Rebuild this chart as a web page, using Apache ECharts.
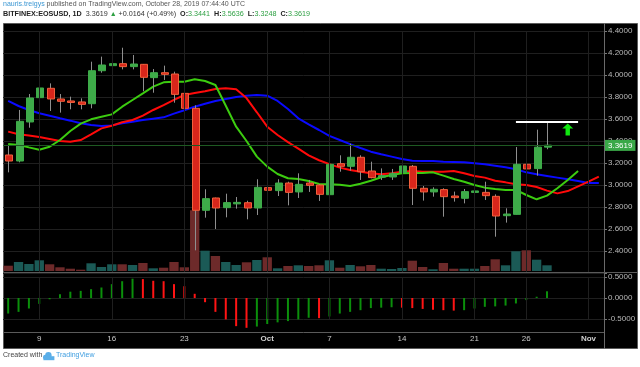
<!DOCTYPE html>
<html><head><meta charset="utf-8">
<script src="https://cdn.jsdelivr.net/npm/echarts@6/dist/echarts.min.js"></script>
<style>html,body{margin:0;padding:0;background:#fff}#c{width:640px;height:367px}</style>
</head><body><div id="c"></div><script>
// ---- data (BITFINEX:EOSUSD, 1D) ----
const categories = ['Sep 6','Sep 7','Sep 8','Sep 9','Sep 10','Sep 11','Sep 12','Sep 13','Sep 14','Sep 15','Sep 16','Sep 17','Sep 18','Sep 19','Sep 20','Sep 21','Sep 22','Sep 23','Sep 24','Sep 25','Sep 26','Sep 27','Sep 28','Sep 29','Sep 30',
 'Oct 1','Oct 2','Oct 3','Oct 4','Oct 5','Oct 6','Oct 7','Oct 8','Oct 9','Oct 10','Oct 11','Oct 12','Oct 13','Oct 14','Oct 15','Oct 16','Oct 17','Oct 18','Oct 19','Oct 20','Oct 21','Oct 22','Oct 23','Oct 24','Oct 25','Oct 26','Oct 27','Oct 28','Oct 29','Oct 30','Oct 31','Nov 1','Nov 2'];
const opens  = [3.273,3.218,3.573,3.794,3.879,3.782,3.764,3.755,3.739,4.039,4.085,4.103,4.076,4.097,3.976,4.021,4.009,3.833,3.697,2.770,2.882,2.794,2.838,2.839,2.791,
 2.976,2.949,3.018,2.937,3.018,3.000,2.912,3.194,3.170,3.252,3.127,3.079,3.073,3.112,3.170,2.970,2.937,2.958,2.900,2.879,2.940,2.933,2.897,2.721,2.733,3.188,3.149,3.3441];
const closes = [3.218,3.579,3.791,3.882,3.782,3.761,3.752,3.733,4.039,4.091,4.103,4.076,4.100,3.979,4.021,4.006,3.824,3.697,2.770,2.876,2.791,2.840,2.842,2.791,2.979,
 2.952,3.018,2.933,3.006,2.997,2.915,3.188,3.170,3.252,3.121,3.067,3.085,3.106,3.173,2.970,2.937,2.961,2.894,2.885,2.940,2.946,2.903,2.718,2.736,3.188,3.146,3.3441,3.3619];
const lows   = [3.115,3.206,3.521,3.627,3.673,3.658,3.688,3.688,3.697,4.021,3.961,4.051,4.051,3.852,3.839,3.955,3.748,3.667,2.406,2.703,2.600,2.706,2.785,2.688,2.727,
 2.873,2.900,2.815,2.882,2.937,2.855,2.912,3.121,3.130,3.046,3.061,3.046,3.046,3.109,2.818,2.858,2.894,2.712,2.849,2.833,2.885,2.864,2.530,2.658,2.733,3.000,3.085,3.3248];
const highs  = [3.358,3.682,3.827,3.970,3.924,3.827,3.803,3.788,4.121,4.167,4.164,4.248,4.182,4.100,4.054,4.085,4.030,3.879,3.724,2.961,2.885,2.921,2.891,2.857,3.052,
 3.130,3.052,3.030,3.106,3.046,3.009,3.273,3.270,3.376,3.270,3.212,3.151,3.146,3.212,3.182,2.991,2.979,2.970,2.940,2.964,2.976,3.030,2.915,2.788,3.345,3.576,3.503,3.5636];
const volumes = [5.3,9,7,10.7,6.7,3.7,2.3,1.3,7.7,4,6.7,6.7,6,8,2.7,3.3,9,3.7,60.7,20.3,15,9,6,8.7,11,
 13.7,2.7,5,5.7,5,5.7,10.7,3.3,6,4.7,6,2.3,2,3,10.3,4,1.7,8,2.3,2.3,2.3,5,11.7,5.7,19.7,20.7,11.3,5.7];
// Alligator lines (shifted forward)
const jaw = [3.764,3.718,3.682,3.652,3.630,3.606,3.585,3.561,3.545,3.536,3.542,3.562,3.576,3.591,3.603,3.615,3.649,3.679,3.712,3.739,3.764,3.782,3.800,3.812,3.818,
 3.812,3.764,3.691,3.606,3.552,3.500,3.446,3.409,3.372,3.336,3.303,3.279,3.258,3.237,3.221,3.218,3.218,3.212,3.209,3.206,3.197,3.188,3.176,3.161,3.143,3.115,3.097,3.082,3.067,3.052,3.036,3.018,3.018];
const teeth = [3.485,3.461,3.449,3.436,3.418,3.400,3.394,3.409,3.461,3.515,3.539,3.570,3.591,3.630,3.682,3.727,3.773,3.818,3.836,3.852,3.873,3.879,3.870,3.790,3.661,
 3.530,3.455,3.390,3.330,3.270,3.225,3.190,3.158,3.136,3.121,3.106,3.097,3.106,3.121,3.127,3.121,3.121,3.121,3.127,3.106,3.082,3.067,3.039,3.024,3.006,3.000,2.982,2.949,2.924,2.945,2.988,3.030,3.076];
const lips = [3.373,3.364,3.342,3.321,3.348,3.409,3.491,3.558,3.597,3.621,3.642,3.712,3.773,3.833,3.894,3.933,3.939,3.939,3.961,3.945,3.909,3.720,3.530,3.400,3.258,
 3.167,3.100,3.061,3.055,3.036,3.009,3.006,3.003,2.991,3.012,3.039,3.070,3.091,3.106,3.109,3.109,3.115,3.085,3.055,3.030,3.000,2.976,2.964,2.955,2.955,2.909,2.870,2.903,2.970,3.045,3.127,null,null];
const oscillator = [-0.37,-0.33,-0.25,-0.14,-0.03,0.09,0.15,0.17,0.21,0.25,0.33,0.40,0.46,0.45,0.41,0.40,0.33,0.28,0.10,-0.10,-0.33,-0.51,-0.67,-0.71,-0.68,
 -0.62,-0.58,-0.55,-0.51,-0.47,-0.48,-0.44,-0.37,-0.33,-0.29,-0.24,-0.23,-0.22,-0.23,-0.24,-0.26,-0.28,-0.29,-0.30,-0.29,-0.25,-0.21,-0.20,-0.18,-0.13,-0.05,0.03,0.16];
const tickDates  = ['Sep 9','Sep 16','Sep 23','Oct 1','Oct 7','Oct 14','Oct 21','Oct 26','Nov 1'];
const tickLabels = ['9','16','23','Oct','7','14','21','26','Nov'];
const lastPrice = 3.3619;
const resistance = {from: 'Oct 25', to: 'Oct 31', price: 3.576};
const arrowAt = {date: 'Oct 30', price: 3.505};

// ---- chart ----
const FONT = '"Liberation Sans", Arial, sans-serif';
const G = '#3eab49', R = '#d8261b', RB = '#f2603c';
const candleData = opens.map((o, i) => [i, o, closes[i], lows[i], highs[i]]);
const volData = volumes.map((v, i) => ({value: v, itemStyle: {color: closes[i] >= opens[i] ? '#1b5a56' : '#6d2a2a'}}));
const oscData = oscillator.map((v, i) => ({value: v, itemStyle: {color: (i === 0 || v >= oscillator[i - 1]) ? '#0b8f0b' : '#ff1414'}}));
const pad = arr => arr.concat(new Array(categories.length - arr.length).fill(null));

const chart = echarts.init(document.getElementById('c'), null, {renderer: 'canvas'});
const gridX = {left: 3, right: 36};
const xBase = {type: 'category', data: categories, boundaryGap: true};
const vLines = tickDates.map(d => ({xAxis: d}));
const vLineStyle = {silent: true, symbol: 'none', label: {show: false}, lineStyle: {color: '#1f1f1f', width: 1, type: 'solid'}, animation: false};

chart.setOption({
  animation: false,
  backgroundColor: '#ffffff',
  textStyle: {fontFamily: FONT},
  grid: [
    Object.assign({top: 31, height: 242}, gridX),
    Object.assign({top: 201, height: 70}, gridX),
    Object.assign({top: 277, height: 42}, gridX)
  ],
  xAxis: [
    Object.assign({gridIndex: 0, show: false}, xBase),
    Object.assign({gridIndex: 1, show: false}, xBase),
    Object.assign({gridIndex: 2, axisLine: {show: false}, axisTick: {show: false}, splitLine: {show: false},
      axisLabel: {
        margin: 16, fontSize: 8, color: '#c8c8c8', fontFamily: FONT,
        interval: (idx, val) => tickDates.indexOf(val) >= 0,
        formatter: val => { const k = tickDates.indexOf(val); if (k < 0) return ''; const t = tickLabels[k]; return isNaN(+t) ? '{m|' + t + '}' : t; },
        rich: {m: {fontWeight: 'bold', fontSize: 8, color: '#d0d0d0'}}
      }}, xBase)
  ],
  yAxis: [
    {gridIndex: 0, position: 'right', min: 2.2, max: 4.4, interval: 0.2,
     axisLine: {show: false}, axisTick: {show: true, length: 3, lineStyle: {color: '#777'}},
     splitLine: {lineStyle: {color: '#1f1f1f'}},
     axisLabel: {margin: 4, fontSize: 8, color: '#b8b8b8', fontFamily: FONT,
       formatter: v => (Math.abs(v - 2.2) < 1e-6 ? '' : v.toFixed(4))}},
    {gridIndex: 1, min: 0, max: 70, show: false},
    {gridIndex: 2, position: 'right', min: -0.5, max: 0.5, interval: 0.5,
     axisLine: {show: false}, axisTick: {show: true, length: 3, lineStyle: {color: '#777'}},
     splitLine: {lineStyle: {color: '#1f1f1f'}},
     axisLabel: {margin: 4, fontSize: 8, color: '#b8b8b8', fontFamily: FONT, formatter: v => v.toFixed(4)}}
  ],
  series: [
    {type: 'line', xAxisIndex: 0, yAxisIndex: 0, data: categories.map(() => null), z: 1, silent: true,
     markLine: Object.assign({data: vLines}, vLineStyle)},
    {type: 'line', xAxisIndex: 2, yAxisIndex: 2, data: categories.map(() => null), z: 1, silent: true,
     markLine: Object.assign({data: vLines}, vLineStyle)},
    {type: 'bar', xAxisIndex: 1, yAxisIndex: 1, data: volData, barWidth: '90%', z: 1, silent: true},
    {type: 'line', xAxisIndex: 0, yAxisIndex: 0, data: pad(jaw), showSymbol: false, symbol: 'none', z: 3,
     lineStyle: {color: '#0a0aff', width: 2}},
    {type: 'line', xAxisIndex: 0, yAxisIndex: 0, data: pad(teeth), showSymbol: false, symbol: 'none', z: 3,
     lineStyle: {color: '#ff0a0a', width: 2}},
    {type: 'line', xAxisIndex: 0, yAxisIndex: 0, data: pad(lips), showSymbol: false, symbol: 'none', z: 3,
     lineStyle: {color: '#3ccc10', width: 2}},
    {type: 'custom', xAxisIndex: 0, yAxisIndex: 0, data: candleData, z: 4,
     encode: {x: 0, y: [1, 2, 3, 4]},
     renderItem: (params, api) => {
       const i = api.value(0), o = api.value(1), c = api.value(2), l = api.value(3), h = api.value(4);
       const pO = api.coord([i, o]), pC = api.coord([i, c]), pL = api.coord([i, l]), pH = api.coord([i, h]);
       const bw = Math.round(api.size([1, 0])[0] * 0.66);
       const cx = Math.round(pO[0]);
       const up = c >= o;
       const top = Math.min(pO[1], pC[1]);
       const bh = Math.max(Math.abs(pO[1] - pC[1]), 1.5);
       return {type: 'group', children: [
         {type: 'line', shape: {x1: cx + 0.5, y1: pH[1], x2: cx + 0.5, y2: pL[1]}, style: {stroke: '#8f8f8f', lineWidth: 1}},
         {type: 'rect', shape: {x: cx - Math.floor(bw / 2) + 0.5, y: top, width: bw, height: bh},
          style: {fill: up ? G : R, stroke: up ? G : RB, lineWidth: 1}}
       ]};
     }},
    {type: 'line', xAxisIndex: 0, yAxisIndex: 0, data: categories.map(() => null), z: 5, silent: true,
     markLine: {silent: true, symbol: 'none', animation: false,
       data: [
         {yAxis: lastPrice, lineStyle: {color: '#1e5a22', width: 1, type: 'solid'},
          label: {show: true, position: 'end', distance: 1, formatter: lastPrice.toFixed(4), color: '#ffffff',
                  backgroundColor: '#3aa848', padding: [2, 3, 1, 3], fontSize: 8, fontFamily: FONT}},
         [{coord: [categories.indexOf(resistance.from), resistance.price], lineStyle: {color: '#ffffff', width: 2, type: 'solid'}, label: {show: false}},
          {coord: [categories.indexOf(resistance.to), resistance.price]}]
       ]},
     markPoint: {silent: true, animation: false,
       data: [{coord: [categories.indexOf(arrowAt.date), arrowAt.price]}],
       symbol: 'path://M5,0 L10,5 L7,5 L7,12 L3,12 L3,5 L0,5 Z', symbolSize: [11, 12],
       itemStyle: {color: '#10e810'}, label: {show: false}}},
    {type: 'bar', xAxisIndex: 2, yAxisIndex: 2, data: oscData, barWidth: 2, clip: false, z: 3, silent: true}
  ],
  graphic: [
    {type: 'rect', z: -10, silent: true, shape: {x: 3.5, y: 23.5, width: 634, height: 325}, style: {fill: '#000000', stroke: '#5a5a5a', lineWidth: 1}},
    {type: 'line', z: 10, silent: true, shape: {x1: 604.5, y1: 23, x2: 604.5, y2: 349}, style: {stroke: '#6a6a6a', lineWidth: 1}},
    {type: 'line', z: 10, silent: true, shape: {x1: 3, y1: 272.5, x2: 638, y2: 272.5}, style: {stroke: '#5a5a5a', lineWidth: 1}},
    {type: 'line', z: 10, silent: true, shape: {x1: 3, y1: 332.5, x2: 604, y2: 332.5}, style: {stroke: '#5a5a5a', lineWidth: 1}},
    {type: 'text', left: 3, top: 1, silent: true, style: {
      text: '{a|nauris.treigys}{b| published on TradingView.com, October 28, 2019 07:44:40 UTC}',
      font: '7px ' + FONT,
      rich: {a: {fill: '#3b97d3', fontSize: 7, fontFamily: FONT}, b: {fill: '#555555', fontSize: 7, fontFamily: FONT}}}},
    {type: 'text', left: 3, top: 11, silent: true, style: {
      text: '{k|BITFINEX:EOSUSD, 1D}{n|  3.3619 }{g|▲}{n| +0.0164 (+0.49%)  }{k|O:}{v|3.3441}{k|  H:}{v|3.5636}{k|  L:}{v|3.3248}{k|  C:}{v|3.3619}',
      font: 'bold 7.2px ' + FONT,
      rich: {
        k: {fill: '#222222', fontWeight: 'bold', fontSize: 7.2, fontFamily: FONT},
        n: {fill: '#333333', fontSize: 7.2, fontFamily: FONT},
        g: {fill: '#2ea043', fontSize: 7, fontFamily: FONT},
        v: {fill: '#2ea043', fontSize: 7.2, fontFamily: FONT}
      }}},
    {type: 'text', left: 3, top: 352, silent: true, style: {text: 'Created with', font: '7px ' + FONT, fill: '#444444'}},
    {type: 'group', left: 43, top: 352, silent: true, children: [
      {type: 'circle', shape: {cx: 6, cy: 4, r: 3.2}, style: {fill: '#5aaee8'}},
      {type: 'circle', shape: {cx: 3, cy: 6, r: 2.4}, style: {fill: '#5aaee8'}},
      {type: 'rect', shape: {x: 1, y: 5, width: 11, height: 4}, style: {fill: '#5aaee8'}}
    ]},
    {type: 'text', left: 56, top: 352, silent: true, style: {text: 'TradingView', font: '7px ' + FONT, fill: '#3f9ee0'}}
  ]
});
</script></body></html>
